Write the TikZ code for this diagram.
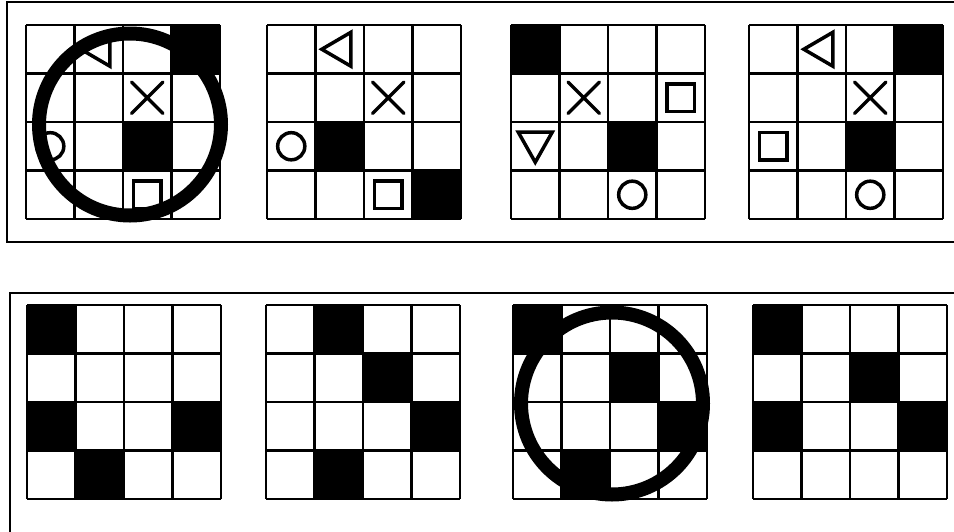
\documentclass[tikz,border=0pt]{standalone}
\begin{document}
\begin{tikzpicture}[x=1pt, y=-1pt,
  panel/.style={draw=black, line width=2pt},
  board/.style={x=48.5pt, y=-48.5pt},
  gridline/.style={draw=black, line width=2.2pt},
  blackcell/.style={fill=black},
  symline/.style={draw=black, line width=3.5pt},
  ring/.style={draw=black, line width=14pt},
  crosssym/.pic={\draw[symline, line cap=round] (-.32,-.32) -- (.32,.32) (-.32,.32) -- (.32,-.32);},
  circlesym/.pic={\draw[symline] (0,0) circle[radius=.28];},
  squaresym/.pic={\draw[symline] (-.28,-.28) rectangle (.28,.28);},
  tleftsym/.pic={\draw[symline] (-.37,0) -- (.23,-.35) -- (.23,.35) -- cycle;},
  tdownsym/.pic={\draw[symline] (-.35,-.29) -- (.35,-.29) -- (0,.33) -- cycle;}
]
\useasboundingbox (0,0) rectangle (954,531);

% panels
\draw[panel] (7,1.5) rectangle (975,241.5);
\draw[panel] (9.5,292.5) rectangle (975,545);

% top row
\begin{scope}[shift={(26,25)}, board]
  \foreach \c/\r in {3/0, 2/2} \fill[blackcell] (\c,\r) rectangle ++(1,1);
  \foreach \i in {0,...,4} \draw[gridline] (\i,0) -- (\i,4) (0,\i) -- (4,\i);
  \pic at (1.5,0.5) {tleftsym};
  \pic at (2.5,1.5) {crosssym};
  \pic at (0.5,2.5) {circlesym};
  \pic at (2.5,3.5) {squaresym};
\end{scope}
\begin{scope}[shift={(267,25)}, board]
  \foreach \c/\r in {1/2, 3/3} \fill[blackcell] (\c,\r) rectangle ++(1,1);
  \foreach \i in {0,...,4} \draw[gridline] (\i,0) -- (\i,4) (0,\i) -- (4,\i);
  \pic at (1.5,0.5) {tleftsym};
  \pic at (2.5,1.5) {crosssym};
  \pic at (0.5,2.5) {circlesym};
  \pic at (2.5,3.5) {squaresym};
\end{scope}
\begin{scope}[shift={(511,25)}, board]
  \foreach \c/\r in {0/0, 2/2} \fill[blackcell] (\c,\r) rectangle ++(1,1);
  \foreach \i in {0,...,4} \draw[gridline] (\i,0) -- (\i,4) (0,\i) -- (4,\i);
  \pic at (1.5,1.5) {crosssym};
  \pic at (3.5,1.5) {squaresym};
  \pic at (0.5,2.5) {tdownsym};
  \pic at (2.5,3.5) {circlesym};
\end{scope}
\begin{scope}[shift={(749,25)}, board]
  \foreach \c/\r in {3/0, 2/2} \fill[blackcell] (\c,\r) rectangle ++(1,1);
  \foreach \i in {0,...,4} \draw[gridline] (\i,0) -- (\i,4) (0,\i) -- (4,\i);
  \pic at (1.5,0.5) {tleftsym};
  \pic at (2.5,1.5) {crosssym};
  \pic at (0.5,2.5) {squaresym};
  \pic at (2.5,3.5) {circlesym};
\end{scope}

% bottom row
\begin{scope}[shift={(27,305)}, board]
  \foreach \c/\r in {0/0, 0/2, 3/2, 1/3} \fill[blackcell] (\c,\r) rectangle ++(1,1);
  \foreach \i in {0,...,4} \draw[gridline] (\i,0) -- (\i,4) (0,\i) -- (4,\i);
\end{scope}
\begin{scope}[shift={(266,305)}, board]
  \foreach \c/\r in {1/0, 2/1, 3/2, 1/3} \fill[blackcell] (\c,\r) rectangle ++(1,1);
  \foreach \i in {0,...,4} \draw[gridline] (\i,0) -- (\i,4) (0,\i) -- (4,\i);
\end{scope}
\begin{scope}[shift={(513,305)}, board]
  \foreach \c/\r in {0/0, 2/1, 3/2, 1/3} \fill[blackcell] (\c,\r) rectangle ++(1,1);
  \foreach \i in {0,...,4} \draw[gridline] (\i,0) -- (\i,4) (0,\i) -- (4,\i);
\end{scope}
\begin{scope}[shift={(753,305)}, board]
  \foreach \c/\r in {0/0, 2/1, 0/2, 3/2} \fill[blackcell] (\c,\r) rectangle ++(1,1);
  \foreach \i in {0,...,4} \draw[gridline] (\i,0) -- (\i,4) (0,\i) -- (4,\i);
\end{scope}

% highlight rings
\draw[ring] (130,124.5) circle[radius=91];
\draw[ring] (612,403.5) circle[radius=91];
\end{tikzpicture}
\end{document}
